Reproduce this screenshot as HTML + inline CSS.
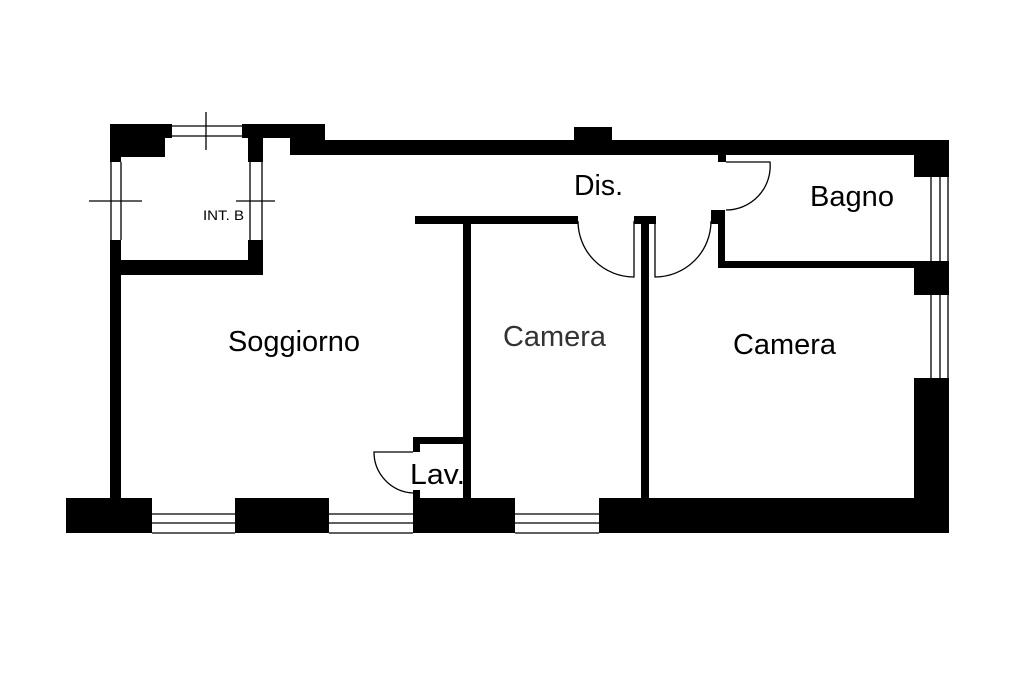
<!DOCTYPE html><html><head><style>body{margin:0;background:#fff}</style></head><body>
<svg width="1024" height="683" viewBox="0 0 1024 683" xmlns="http://www.w3.org/2000/svg" font-family="Liberation Sans, sans-serif">
<g fill="#000">
<rect x="66" y="498" width="86" height="35"/><rect x="235" y="498" width="94" height="35"/>
<rect x="413" y="498" width="102" height="35"/><rect x="599" y="498" width="350" height="35"/>
<rect x="110" y="262" width="11" height="236"/>
<rect x="463" y="222" width="8" height="276"/><rect x="641" y="218" width="8" height="280"/>
<rect x="914" y="378" width="35" height="120"/>
<rect x="914" y="155" width="35" height="22"/><rect x="914" y="265" width="35" height="30"/>
<rect x="290" y="140" width="659" height="15"/><rect x="574" y="127" width="38" height="13"/>
<rect x="110" y="124" width="62" height="14"/><rect x="110" y="124" width="55" height="33"/><rect x="110" y="138" width="11" height="24"/>
<rect x="242" y="124" width="83" height="14"/><rect x="248" y="138" width="15" height="24"/><rect x="290" y="138" width="35" height="17"/>
<rect x="110" y="240" width="11" height="22"/><rect x="110" y="260" width="153" height="15"/><rect x="248" y="240" width="15" height="22"/>
<rect x="415" y="216" width="163" height="8"/><rect x="634" y="216" width="22" height="8"/>
<rect x="711" y="210" width="14" height="14"/><rect x="718" y="210" width="7" height="58"/><rect x="718" y="261" width="231" height="7"/>
<rect x="718" y="155" width="8" height="7"/>
<rect x="413" y="437" width="58" height="7"/><rect x="413" y="437" width="7" height="15"/><rect x="413" y="490" width="7" height="8"/>
</g>
<g fill="none" stroke="#000" stroke-width="1.3">
<path d="M152 514H235M152 523H235M152 533H235M329 514H413M329 523H413M329 533H413M515 514H599M515 523H599M515 533H599"/>
<path d="M172 126H242M172 136H242M206 112V150"/>
<path d="M111 162V240M121 162V240M89 201H142"/>
<path d="M250 162V240M262 162V240M236 201H275"/>
<path d="M931 177V265M940 177V265M948 177V265M931 295V378M940 295V378M948 295V378"/>
<path d="M578 221A56 56 0 0 0 634 277V221"/>
<path d="M655 221V277A56 56 0 0 0 711 221"/>
<path d="M726 162H770A44 44 0 0 1 726 210"/>
<path d="M413 452H374A41 41 0 0 0 413 493"/>
</g>
<g font-size="29" fill="#000">
<text x="574" y="195" textLength="49" lengthAdjust="spacingAndGlyphs">Dis.</text>
<text x="810" y="206" textLength="84" lengthAdjust="spacingAndGlyphs">Bagno</text>
<text x="228" y="351" textLength="132" lengthAdjust="spacingAndGlyphs">Soggiorno</text>
<text x="503" y="346" fill="#333" textLength="103" lengthAdjust="spacingAndGlyphs">Camera</text>
<text x="733" y="354" textLength="103" lengthAdjust="spacingAndGlyphs">Camera</text>
<text x="410" y="484" textLength="55" lengthAdjust="spacingAndGlyphs">Lav.</text>
<text x="203" y="220" font-size="14" textLength="41" lengthAdjust="spacingAndGlyphs">INT. B</text>
</g>
</svg>
</body></html>
